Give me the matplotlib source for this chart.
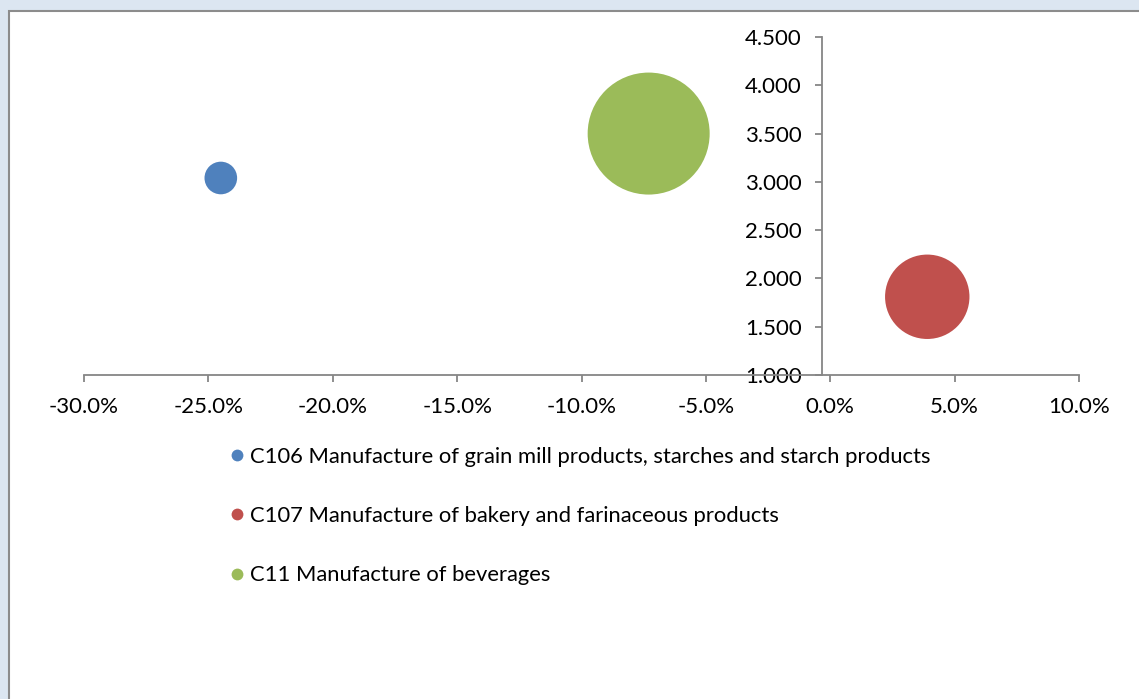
import matplotlib
matplotlib.use("Agg")
import matplotlib.pyplot as plt
from matplotlib.patches import Rectangle
from matplotlib.lines import Line2D
from matplotlib.ticker import FuncFormatter

plt.rcParams['font.family'] = ['Lato', 'DejaVu Sans']

# Industry bubbles: growth (x), index (y), bubble size
labels = [
    "C106 Manufacture of grain mill products, starches and starch products",
    "C107 Manufacture of bakery and farinaceous products",
    "C11 Manufacture of beverages",
]
growth = [-0.245, 0.039, -0.073]
index_vals = [3.04, 1.81, 3.50]
bubble_size = [266, 1781, 3721]
colors = ["#4f81bd", "#c0504d", "#9bbb59"]

x_ticks = [-0.30, -0.25, -0.20, -0.15, -0.10, -0.05, 0.0, 0.05, 0.10]
y_ticks = [1.0, 1.5, 2.0, 2.5, 3.0, 3.5, 4.0, 4.5]

W, H = 1139, 699
fig = plt.figure(figsize=(W / 100, H / 100), dpi=100)
fig.patch.set_facecolor("#dce6f1")

# white chart panel with a grey frame
panel = Rectangle((9 / W, -0.01), 1.2, (H - 11) / H + 0.01,
                  transform=fig.transFigure, facecolor="white",
                  edgecolor="#8c8c8c", linewidth=1.5, zorder=-5)
fig.patches.append(panel)

ax = fig.add_axes([84 / W, (H - 375) / H, 995 / W, 338 / H])
ax.set_facecolor("none")
ax.set_xlim(-0.30, 0.10)
ax.set_ylim(1.0, 4.5)

# bubble area proportional to size; largest bubble ~61 px radius
max_r_pt = 61 * 0.72
scale = (2 * max_r_pt) ** 2 / max(bubble_size)
for gx, iy, s, c in zip(growth, index_vals, bubble_size, colors):
    ax.scatter([gx], [iy], s=s * scale, color=c, edgecolors="none",
               zorder=3, clip_on=False)

spine_col = "#868686"
for side in ("top", "right"):
    ax.spines[side].set_visible(False)
ax.spines["left"].set_position(("data", -0.0032))
ax.spines["bottom"].set_position(("data", 1.0))
for side in ("left", "bottom"):
    ax.spines[side].set_color(spine_col)
    ax.spines[side].set_linewidth(1.3)

ax.set_xticks(x_ticks)
ax.set_yticks(y_ticks)
ax.xaxis.set_major_formatter(FuncFormatter(lambda v, p: f"{v * 100:.1f}%"))
ax.yaxis.set_major_formatter(FuncFormatter(lambda v, p: f"{v:.3f}"))
ax.tick_params(axis="both", direction="out", length=5, width=1.3,
               color=spine_col, labelsize=16, labelcolor="black")
ax.tick_params(axis="x", pad=11)
ax.tick_params(axis="y", pad=10)

handles = [Line2D([], [], linestyle="none", marker="o", markersize=8.5,
                  markerfacecolor=c, markeredgecolor="none") for c in colors]
fig.legend(handles, labels, loc="upper left",
           bbox_to_anchor=(229 / W, 1 - 447 / H), frameon=False,
           fontsize=15.85, handlelength=0.7, handletextpad=0.25,
           labelspacing=1.78, borderpad=0, borderaxespad=0)

fig.savefig("out.png", dpi=100)
